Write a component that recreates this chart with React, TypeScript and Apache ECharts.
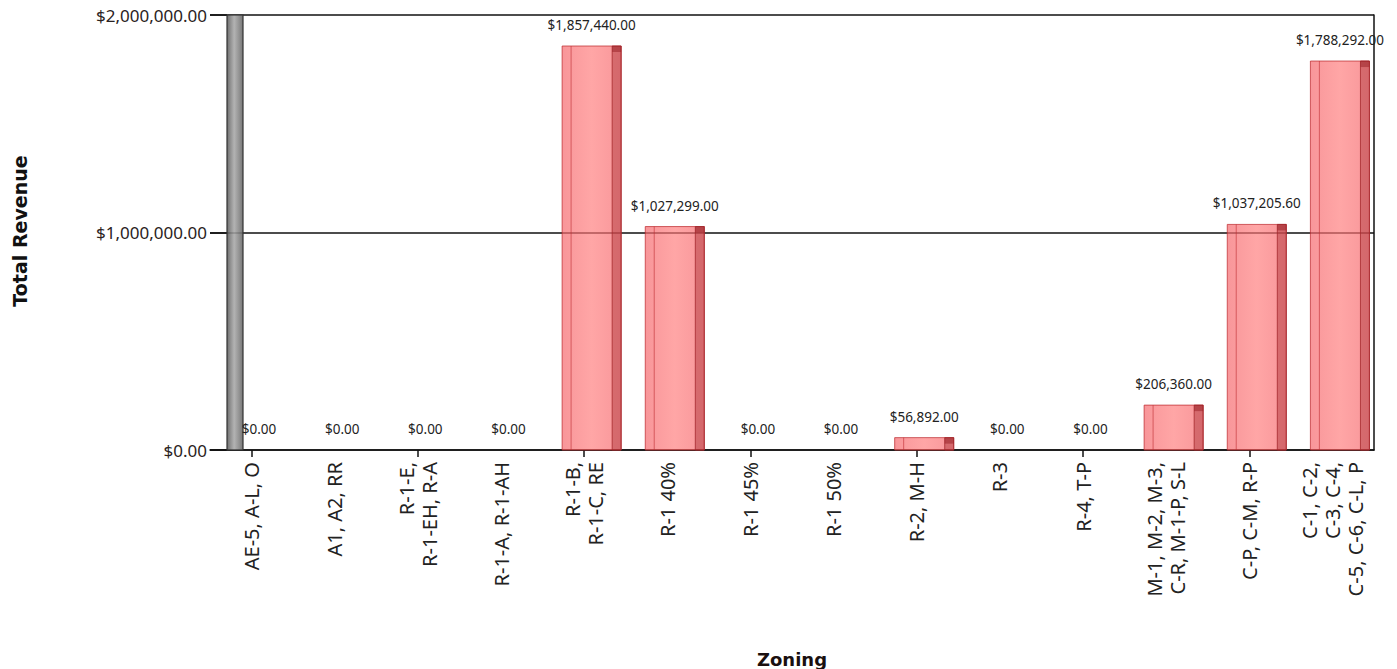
import React, { useEffect, useRef } from "react";
import * as echarts from "echarts";

const categories = [
  "AE-5, A-L, O",
  "A1, A2, RR",
  "R-1-E,\nR-1-EH, R-A",
  "R-1-A, R-1-AH",
  "R-1-B,\nR-1-C, RE",
  "R-1 40%",
  "R-1 45%",
  "R-1 50%",
  "R-2, M-H",
  "R-3",
  "R-4, T-P",
  "M-1, M-2, M-3,\nC-R, M-1-P, S-L",
  "C-P, C-M, R-P",
  "C-1, C-2,\nC-3, C-4,\nC-5, C-6, C-L, P",
];

const revenue = [0, 0, 0, 0, 1857440, 1027299, 0, 0, 56892, 0, 0, 206360, 1037205.6, 1788292];

const yMin = 0;
const yMax = 2000000;
const yInterval = 1000000;

const xTitle = "Zoning";
const yTitle = "Total Revenue";

const money = (v: number) =>
  "$" + v.toLocaleString("en-US", { minimumFractionDigits: 2, maximumFractionDigits: 2 });

const LABEL_FONT = "'Noto Sans', 'DejaVu Sans', sans-serif";
const TITLE_FONT = "'DejaVu Sans', sans-serif";

export default function App() {
  const ref = useRef<HTMLDivElement>(null);

  useEffect(() => {
    if (!ref.current) return;
    const chart = echarts.init(ref.current, undefined, { renderer: "svg" });

    const gridLeft = 210;
    const gridTop = 15;
    const gridRight = 23;
    const gridBottom = 219;

    const renderItem = (params: any, api: any) => {
      const idx = api.value(0);
      const val = api.value(1);
      const [cx, yTop] = api.coord([idx, val]);
      const [, yBase] = api.coord([idx, 0]);
      const band = api.size([1, 0])[0];
      const left = cx - band * 0.265;
      const right = cx + band * 0.445;
      const strip = band * 0.108;
      const labelX = (left + right) / 2;
      const children: any[] = [];
      if (val > 0) {
        const h = yBase - yTop;
        children.push({
          type: "rect",
          shape: { x: left, y: yTop, width: right - left, height: h },
          style: {
            fill: new echarts.graphic.LinearGradient(0, 0, 1, 0, [
              { offset: 0, color: "rgba(245,105,110,0.7)" },
              { offset: 0.5, color: "rgba(255,120,120,0.66)" },
              { offset: 1, color: "rgba(245,105,110,0.7)" },
            ]),
            stroke: "rgba(190,45,50,0.75)",
            lineWidth: 1,
          },
        });
        children.push({
          type: "line",
          shape: { x1: left + strip, y1: yTop, x2: left + strip, y2: yBase },
          style: { stroke: "rgba(190,45,50,0.6)", lineWidth: 1 },
        });
        children.push({
          type: "rect",
          shape: { x: right - strip, y: yTop, width: strip, height: h },
          style: {
            fill: "rgba(165,40,45,0.42)",
            stroke: "rgba(165,40,45,0.8)",
            lineWidth: 1,
          },
        });
        children.push({
          type: "rect",
          shape: { x: right - strip, y: yTop, width: strip, height: Math.min(6, h) },
          style: { fill: "rgba(150,30,35,0.5)" },
        });
      }
      children.push({
        type: "text",
        x: labelX,
        y: yTop - 21,
        style: {
          text: money(val),
          fill: "#222",
          font: `13.5px ${LABEL_FONT}`,
          textAlign: "center",
          textVerticalAlign: "middle",
        },
      });
      return { type: "group", children };
    };

    const baseGraphics: any[] = [
      {
        type: "rect",
        z: 2,
        shape: { x: 227, y: gridTop, width: 16, height: 435 },
        style: {
          fill: new echarts.graphic.LinearGradient(0, 0, 1, 0, [
            { offset: 0, color: "rgba(95,95,95,0.9)" },
            { offset: 0.45, color: "rgba(165,165,165,0.85)" },
            { offset: 1, color: "rgba(105,105,105,0.9)" },
          ]),
          stroke: "#333",
          lineWidth: 1.2,
        },
      },
      {
        type: "text",
        x: 20,
        y: 231,
        rotation: Math.PI / 2,
        style: {
          text: yTitle,
          font: `bold 19px ${TITLE_FONT}`,
          fill: "#111",
          textAlign: "center",
          textVerticalAlign: "middle",
        },
      },
      {
        type: "text",
        x: 792,
        y: 659,
        style: {
          text: xTitle,
          font: `bold 18px ${TITLE_FONT}`,
          fill: "#1a1010",
          textAlign: "center",
          textVerticalAlign: "middle",
        },
      },
    ];

    chart.setOption({
      animation: false,
      backgroundColor: "#ffffff",
      grid: { left: gridLeft, right: gridRight, top: gridTop, bottom: gridBottom, containLabel: false },
      xAxis: {
        type: "category",
        data: categories,
        axisLine: { show: true, lineStyle: { color: "#111", width: 1.5 } },
        axisTick: { show: true, alignWithLabel: true, length: 7, lineStyle: { color: "#111", width: 1.5 } },
        axisLabel: { show: false },
        splitLine: { show: false },
      },
      yAxis: [
        {
          type: "value",
          min: yMin,
          max: yMax,
          interval: yInterval,
          axisLine: { show: false },
          axisTick: { show: true, inside: true, length: 17, lineStyle: { color: "#111", width: 1.5 } },
          splitLine: { show: true, lineStyle: { color: "#111", width: 1.5 } },
          axisLabel: {
            formatter: (v: number) => money(v),
            margin: 3,
            color: "#2a2222",
            fontFamily: LABEL_FONT,
            fontSize: 17,
          },
        },
        {
          type: "value",
          position: "right",
          min: yMin,
          max: yMax,
          interval: yInterval,
          axisLine: { show: true, lineStyle: { color: "#111", width: 1.5 } },
          axisTick: { show: false },
          axisLabel: { show: false },
          splitLine: { show: false },
        },
      ],
      series: [
        {
          type: "custom",
          renderItem,
          data: categories.map((c, i) => [i, revenue[i]]),
          encode: { x: 0, y: 1 },
          clip: false,
          z: 3,
        },
      ],
      graphic: baseGraphics,
    });

    // Category labels: rotated, right-aligned lines, positioned through the axis scale
    const catLabels = categories.map((c, i) => {
      const [px, py] = chart.convertToPixel({ xAxisIndex: 0, yAxisIndex: 0 }, [i, 0]) as number[];
      return {
        type: "text",
        x: px,
        y: py + 12,
        rotation: Math.PI / 2,
        style: {
          text: c,
          font: `20px ${LABEL_FONT}`,
          lineHeight: 23,
          fill: "#222",
          textAlign: "right",
          textVerticalAlign: "middle",
        },
      };
    });

    chart.setOption({ graphic: [...baseGraphics, ...catLabels] });

    return () => chart.dispose();
  }, []);

  return (
    <div
      ref={ref}
      style={{ position: "fixed", left: 0, top: 0, width: 1397, height: 669, background: "#fff" }}
    />
  );
}
